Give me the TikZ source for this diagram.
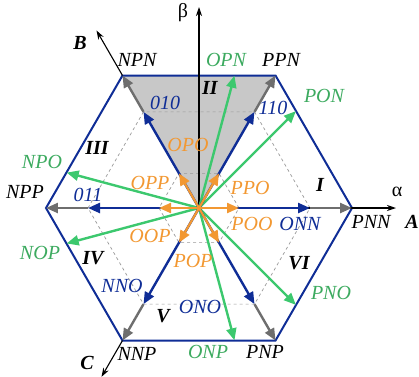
\documentclass[tikz,border=0pt]{standalone}
\usepackage{fontspec}
\setmainfont{Liberation Serif}
\usepackage{tikz}
\usetikzlibrary{arrows.meta}
\definecolor{hexblue}{RGB}{15, 45, 150}
\definecolor{vecgreen}{RGB}{60, 200, 110}
\definecolor{labgreen}{RGB}{60, 170, 95}
\definecolor{vecorange}{RGB}{242, 152, 50}
\definecolor{vecgray}{RGB}{110, 110, 110}
\definecolor{sectorgray}{RGB}{200, 200, 200}

\begin{document}
\begin{tikzpicture}[x=1pt,y=1pt,
  lab/.style={font=\fontsize{20}{22}\selectfont\itshape, inner sep=0pt},
  sec/.style={font=\fontsize{20}{22}\selectfont\bfseries\itshape, inner sep=0pt},
  vec/.style={line width=2.4pt, -{Triangle[length=12pt,width=10pt]}},
  axis/.style={line width=1.1pt, -{Stealth[length=9pt,width=6pt]}}]
\useasboundingbox (-199,-168) rectangle (220,208);
% Points
\coordinate (O) at (0,0);
\foreach \i in {0,...,5} {
  \coordinate (V\i) at (\i*60:153);
  \coordinate (M\i) at (\i*60:111);
  \coordinate (S\i) at (\i*60:40);
}
\foreach \a [count=\j] in {45,75,165,195,285,315}
  \coordinate (G\j) at (\a:137);
% Sector II
\fill[sectorgray] (O) -- (V1) -- (V2) -- cycle;
% Dashed hexagons
\draw[gray!80, dashed, line width=0.7pt] (M0) -- (M1) -- (M2) -- (M3) -- (M4) -- (M5) -- cycle;
\draw[gray!80, dashed, line width=0.7pt] (S0) -- (S1) -- (S2) -- (S3) -- (S4) -- (S5) -- cycle;
% Outer hexagon
\draw[hexblue, line width=2pt] (V0) -- (V1) -- (V2) -- (V3) -- (V4) -- (V5) -- cycle;
% Axes
\coordinate (alpha) at (197,0);
\coordinate (beta) at (0,201);
\coordinate (Btip) at (120:205);
\coordinate (Ctip) at (240:195);
\draw[axis] (O) -- (alpha);
\draw[axis] (O) -- (beta);
\draw[axis] (V2) -- (Btip);
\draw[axis] (V4) -- (Ctip);
% Medium vectors
\foreach \j in {1,...,6}
  \draw[vec, vecgreen] (O) -- (G\j);
% Large vectors
\foreach \i in {0,...,5} {
  \draw[vec, hexblue] (O) -- (M\i);
  \draw[vec, vecgray] (M\i) -- (V\i);
}
% Small vectors
\foreach \i in {0,...,5}
  \draw[vec, vecorange, line width=2.2pt] (O) -- (S\i);
% Axis labels
\node[font=\fontsize{20}{22}\selectfont, inner sep=0pt] (lbeta) at (-16,195) {β};
\node[font=\fontsize{20}{22}\selectfont, inner sep=0pt] (lalpha) at (198,16) {α};
\node[sec] (lA) at (213,-14) {A};
\node[sec] (lB) at (-119,165) {B};
\node[sec] (lC) at (-112,-155) {C};
% Sectors
\node[sec] (sI) at (121,23) {I};
\node[sec] (sII) at (11,120) {II};
\node[sec] (sIII) at (-102,60) {III};
\node[sec] (sIV) at (-106,-50) {IV};
\node[sec] (sV) at (-36,-108) {V};
\node[sec] (sVI) at (100,-55) {VI};
% Large vector labels
\node[lab] (nPNN) at (172,-14) {PNN};
\node[lab] (nPPN) at (82,148) {PPN};
\node[lab] (nNPN) at (-62,148) {NPN};
\node[lab] (nNPP) at (-174,16) {NPP};
\node[lab] (nNNP) at (-62,-146) {NNP};
\node[lab] (nPNP) at (66,-144) {PNP};
% Medium vector labels
\node[lab, labgreen] (nPON) at (125,112) {PON};
\node[lab, labgreen] (nOPN) at (27,148) {OPN};
\node[lab, labgreen] (nNPO) at (-157,46) {NPO};
\node[lab, labgreen] (nNOP) at (-159,-45) {NOP};
\node[lab, labgreen] (nONP) at (9,-144) {ONP};
\node[lab, labgreen] (nPNO) at (132,-85) {PNO};
% Blue labels
\node[lab, hexblue] (nONN) at (101,-16) {ONN};
\node[lab, hexblue] (n110) at (74,100) {110};
\node[lab, hexblue] (n010) at (-34,105) {010};
\node[lab, hexblue] (n011) at (-111,13) {011};
\node[lab, hexblue] (nNNO) at (-77,-78) {NNO};
\node[lab, hexblue] (nONO) at (1,-99) {ONO};
% Small vector labels
\node[lab, vecorange] (nPOO) at (53,-16) {POO};
\node[lab, vecorange] (nPPO) at (51,20) {PPO};
\node[lab, vecorange] (nOPO) at (-11,63) {OPO};
\node[lab, vecorange] (nOPP) at (-49,25) {OPP};
\node[lab, vecorange] (nOOP) at (-49,-28) {OOP};
\node[lab, vecorange] (nPOP) at (-6,-53) {POP};
\end{tikzpicture}
\end{document}
